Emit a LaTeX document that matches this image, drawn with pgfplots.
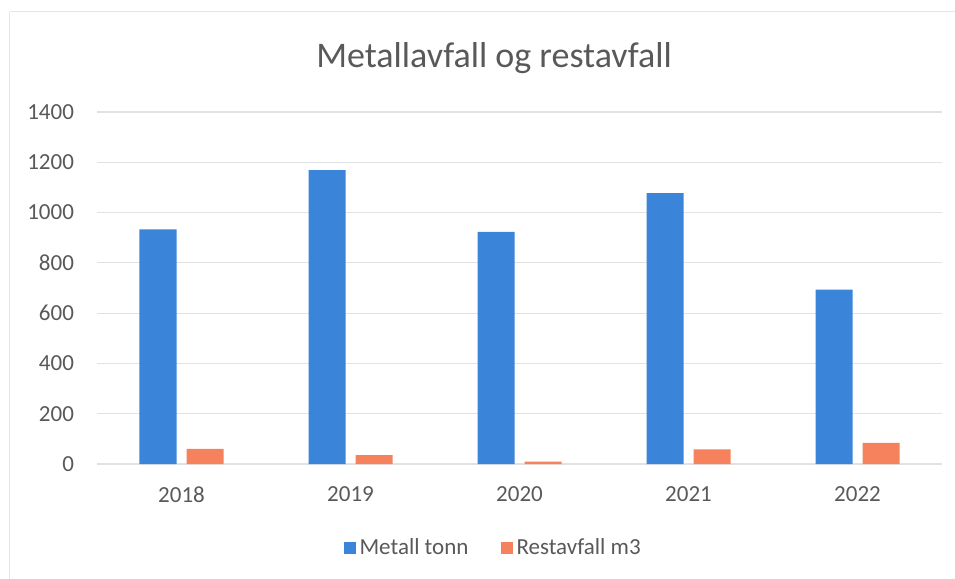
\documentclass[border=0pt]{standalone}
\usepackage{pgfplots}
\pgfplotsset{compat=1.18}
\usepackage{fontspec}
\setmainfont{Carlito}
\definecolor{metall}{HTML}{3A84D9}
\definecolor{rest}{HTML}{F5825C}
\definecolor{txt}{HTML}{595959}
\definecolor{gridc}{HTML}{E2E2E2}
\begin{document}
\begin{tikzpicture}
\begin{axis}[
	name=ax, clip=false,
	scale only axis, width=422.5bp, height=176bp,
	xmin=-0.5, xmax=4.5, ymin=0, ymax=1400,
	ybar=5bp, bar width=18.5bp,
	xtick={0,1,2,3,4}, xticklabels={2018,2019,2020,2021,2022},
	ytick={0,200,...,1400},
	major tick length=0pt,
	axis lines*=left, axis line style={draw=none},
	ymajorgrids, grid style={gridc, line width=0.6pt},
	tick label style={font=\fontsize{11.5bp}{13bp}\selectfont, text=txt},
	/pgf/number format/assume math mode=true,
	/pgf/number format/1000 sep={},
	yticklabel style={xshift=-8bp},
	xticklabel style={yshift=-8bp},
	legend columns=2,
	legend style={at={(axis description cs:0.47,-0.2386)}, anchor=center, draw=none,
		font=\fontsize{11.5bp}{13bp}\selectfont, text=txt,
		/tikz/every even column/.append style={column sep=14bp}},
	legend image code/.code={\fill[#1] (0bp,-3bp) rectangle (6bp,3bp);},
]
\addplot[draw=none, fill=metall] coordinates {(0,933) (1,1169) (2,923) (3,1077) (4,694)};
\addlegendentry{Metall tonn}
\addplot[draw=none, fill=rest] coordinates {(0,60) (1,35) (2,9) (3,58) (4,84)};
\addlegendentry{Restavfall m3}
\node[anchor=base, text=txt, font=\fontsize{18bp}{21bp}\selectfont] at (axis description cs:0.47,1.125) {Metallavfall og restavfall};
\end{axis}
\draw[gray!20, line width=0.5bp] ([shift={(-43.5bp,-57.5bp)}]ax.south west) ++(0bp,283.5bp) -- ++(0bp,-290bp) ++(0bp,290bp) -- ++(480bp,0bp);
\pgfresetboundingbox
\path ([shift={(-48.5bp,-57.5bp)}]ax.south west) rectangle ++(477.5bp,289.5bp);
\end{tikzpicture}
\end{document}
